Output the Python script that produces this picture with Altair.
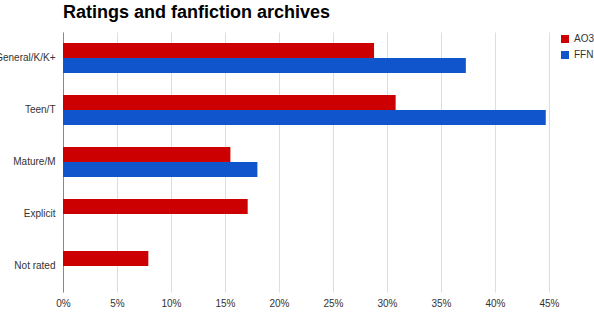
import altair as alt
import pandas as pd

categories = ["General/K/K+", "Teen/T", "Mature/M", "Explicit", "Not rated"]
ao3 = [28.8, 30.8, 15.5, 17.1, 7.9]
ffn = [37.3, 44.7, 18.0, None, None]
series = ["AO3", "FFN"]
colors = ["#cc0000", "#1155cc"]
x_ticks = [0, 0.05, 0.10, 0.15, 0.20, 0.25, 0.30, 0.35, 0.40, 0.45]

rows = []
for c, a, f in zip(categories, ao3, ffn):
    rows.append({"rating": c, "archive": "AO3", "pct": a / 100})
    if f is not None:
        rows.append({"rating": c, "archive": "FFN", "pct": f / 100})
df = pd.DataFrame(rows)

FONT = "Liberation Sans"

chart = alt.Chart(df).mark_bar().encode(
    x=alt.X(
        "pct:Q",
        scale=alt.Scale(domain=[0, 0.45], nice=False),
        axis=alt.Axis(
            format=".0%", values=x_ticks, title=None, ticks=False, domain=False,
            labelPadding=6, gridColor="#dddddd", labelFlush=False,
            labelFont=FONT, labelFontSize=10, labelColor="#333333",
        ),
    ),
    y=alt.Y(
        "rating:N", sort=categories,
        scale=alt.Scale(paddingInner=0.42, paddingOuter=0.21),
        axis=alt.Axis(
            title=None, ticks=False, grid=False, domainColor="#888888",
            labelPadding=8, labelFont=FONT, labelFontSize=10, labelColor="#333333",
        ),
    ),
    yOffset=alt.YOffset("archive:N", sort=series),
    color=alt.Color(
        "archive:N",
        scale=alt.Scale(domain=series, range=colors),
        legend=alt.Legend(
            title=None, orient="none", legendX=497, legendY=2,
            symbolType="square", symbolSize=64, symbolStrokeWidth=0,
            labelFont=FONT, labelFontSize=10, labelColor="#333333",
            labelOffset=4, rowPadding=6, padding=0,
        ),
    ),
).properties(
    width=486,
    height=260,
    title=alt.Title(
        "Ratings and fanfiction archives", anchor="start", frame="group",
        fontSize=18, font=FONT, fontWeight="bold", color="#000000", offset=10,
    ),
    autosize=alt.AutoSizeParams(type="none"),
    padding={"left": 63, "top": 32, "right": 45, "bottom": 28},
).configure_view(stroke=None)

chart.save("out.html", embed_options={"renderer": "svg", "actions": False})
